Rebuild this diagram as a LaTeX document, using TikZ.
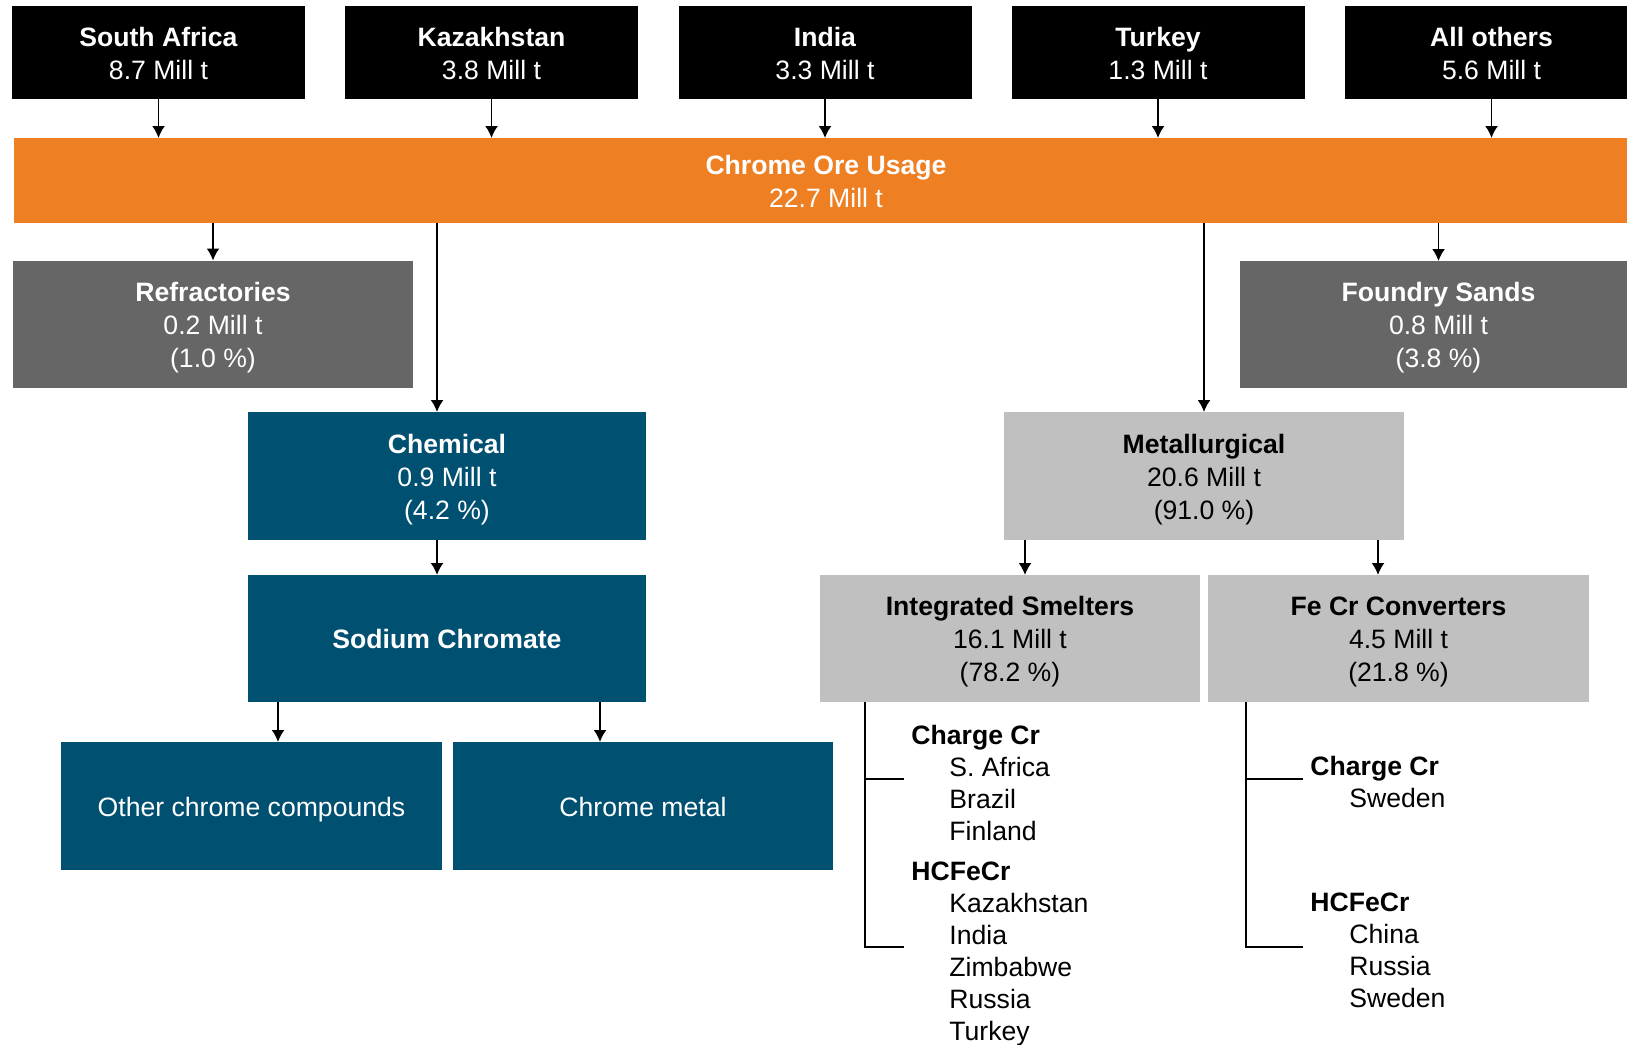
\documentclass[tikz,border=0pt]{standalone}
\usepackage{fontspec}
\setmainfont{Liberation Sans}
\usetikzlibrary{arrows.meta,positioning}

\definecolor{oreorange}{HTML}{EE7F22}
\definecolor{usegrey}{HTML}{666666}
\definecolor{chemblue}{HTML}{005072}
\definecolor{metgrey}{HTML}{C0C0C0}

\newcommand{\boxstrut}{\vrule height 13pt depth 3pt width 0pt}
\newcommand{\boxtitle}[1]{\boxstrut\textbf{#1}}

\tikzset{
  box/.style={inner sep=0pt, outer sep=0pt, align=center,
    font=\fontsize{13.3}{16.5}\selectfont\boxstrut},
  source/.style={box, fill=black, text=white, minimum width=146.5pt, minimum height=46.5pt},
  usage/.style={box, fill=usegrey, text=white, minimum width=200pt, minimum height=63.5pt},
  chembox/.style={box, fill=chemblue, text=white, minimum width=199pt, minimum height=64pt},
  metbox/.style={box, fill=metgrey, text=black, minimum width=190pt, minimum height=63.5pt},
  flow/.style={-{Latex[length=6pt,width=6.5pt]}, line width=0.9pt},
  bracket/.style={line width=0.9pt},
  listhead/.style={anchor=base west, inner sep=0pt, font=\fontsize{13.3}{16}\selectfont\bfseries},
  listitem/.style={anchor=base west, inner sep=0pt, font=\fontsize{13.3}{16}\selectfont}
}

\begin{document}
\begin{tikzpicture}[x=0.5pt, y=-0.5pt]
  \useasboundingbox (0,0) rectangle (1627,1044);

  % Producing countries
  \node[source] (sa)  at (158.5,52.5) {\boxtitle{South Africa}\\8.7 Mill t\boxstrut};
  \node[source] (kz)  at (491.5,52.5) {\boxtitle{Kazakhstan}\\3.8 Mill t\boxstrut};
  \node[source] (ind) at (825,52.5)   {\boxtitle{India}\\3.3 Mill t\boxstrut};
  \node[source] (tr)  at (1158,52.5)  {\boxtitle{Turkey}\\1.3 Mill t\boxstrut};
  \node[source] (oth) at (1491.5,52.5) {\boxtitle{All others}\\5.6 Mill t\boxstrut};

  % Total usage bar
  \node[box, fill=oreorange, text=white, minimum width=812pt, minimum height=42.5pt]
    (ore) at (826,180.5) {\boxtitle{Chrome Ore Usage}\\22.7 Mill t\boxstrut};

  \foreach \src in {sa,kz,ind,tr,oth}
    \draw[flow] (\src.south) -- (\src.south |- ore.north);

  % Uses
  \node[usage] (refr) at (213,324) {\boxtitle{Refractories}\\0.2 Mill t\\(1.0 \%)\boxstrut};
  \node[usage, minimum width=198.5pt] (foun) at (1438.5,324.5)
    {\boxtitle{Foundry Sands}\\0.8 Mill t\\(3.8 \%)\boxstrut};
  \node[chembox] (chem) at (447,476) {\boxtitle{Chemical}\\0.9 Mill t\\(4.2 \%)\boxstrut};
  \node[metbox, minimum width=200pt, minimum height=64pt] (met) at (1204,476)
    {\boxtitle{Metallurgical}\\20.6 Mill t\\(91.0 \%)\boxstrut};

  \draw[flow] (refr.north |- ore.south) -- (refr.north);
  \draw[flow] (foun.north |- ore.south) -- (foun.north);
  \draw[flow] ([xshift=-5pt]chem.north |- ore.south) -- ([xshift=-5pt]chem.north);
  \draw[flow] (met.north |- ore.south) -- (met.north);

  % Chemical branch
  \node[chembox, minimum height=63.5pt] (sodium) at (447,638.5) {\textbf{Sodium Chromate}};
  \node[chembox, minimum width=190.5pt] (other) at (251.5,806) {Other chrome compounds};
  \node[chembox, minimum width=190pt] (crmet) at (643,806) {Chrome metal};

  \draw[flow] ([xshift=-5pt]chem.south) -- ([xshift=-5pt]sodium.north);
  \draw[flow] ([xshift=-84.5pt]sodium.south) -- ([xshift=-84.5pt]sodium.south |- other.north);
  \draw[flow] ([xshift=76.5pt]sodium.south) -- ([xshift=76.5pt]sodium.south |- crmet.north);

  % Metallurgical branch
  \node[metbox] (smelt) at (1010,638.5)
    {\boxtitle{Integrated Smelters}\\16.1 Mill t\\(78.2 \%)\boxstrut};
  \node[metbox, minimum width=190.5pt] (conv) at (1398.5,638.5)
    {\boxtitle{Fe Cr Converters}\\4.5 Mill t\\(21.8 \%)\boxstrut};

  \draw[flow] ([xshift=-89.5pt]met.south) -- ([xshift=-89.5pt]met.south |- smelt.north);
  \draw[flow] ([xshift=87pt]met.south) -- ([xshift=87pt]met.south |- conv.north);

  % Brackets under the smelter boxes
  \draw[bracket] ([xshift=22.5pt]smelt.south west) -- ++(0,245) -- ++(39,0);
  \draw[bracket] ([xshift=22.5pt]smelt.south west) ++(0,77) -- ++(39,0);
  \draw[bracket] ([xshift=19pt]conv.south west) -- ++(0,245) -- ++(57,0);
  \draw[bracket] ([xshift=19pt]conv.south west) ++(0,77) -- ++(57,0);

  % Producer lists
  \node[listhead] (ischarge) at (911,744) {Charge Cr};
  \foreach \name [count=\i] in {S. Africa, Brazil, Finland}
    \node[listitem] (ischarge\i) at (949,744+32*\i) {\name};
  \node[listhead] (ishc) at (911,880) {HCFeCr};
  \foreach \name [count=\i] in {Kazakhstan, India, Zimbabwe, Russia, Turkey}
    \node[listitem] (ishc\i) at (949,880+32*\i) {\name};

  \node[listhead] (cvcharge) at (1310,775) {Charge Cr};
  \node[listitem] (cvcharge1) at (1349,807) {Sweden};
  \node[listhead] (cvhc) at (1310,911) {HCFeCr};
  \foreach \name [count=\i] in {China, Russia, Sweden}
    \node[listitem] (cvhc\i) at (1349,911+32*\i) {\name};
\end{tikzpicture}
\end{document}
